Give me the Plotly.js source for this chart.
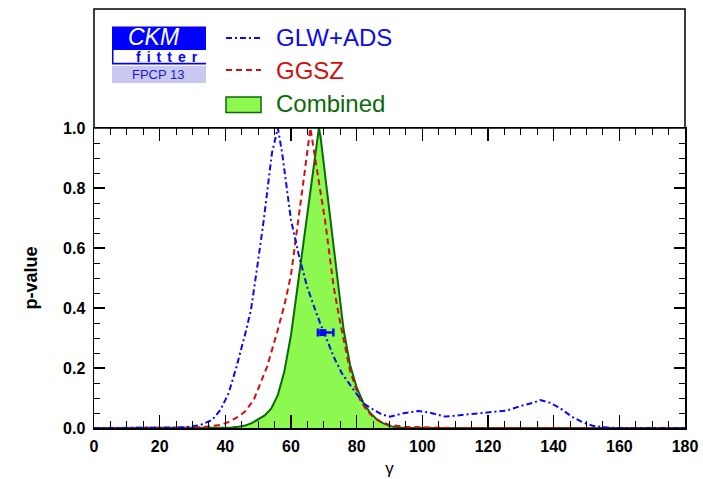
<!DOCTYPE html>
<html>
<head>
<meta charset="utf-8">
<script src="https://cdn.plot.ly/plotly-3.0.1.min.js"></script>
<style>html,body{margin:0;padding:0;background:#fff;}#chart{width:703px;height:479px;}</style>
</head>
<body>
<div id="chart"></div>
<script>
// ---- Data ----
const combinedGamma = [0, 30, 36, 40, 42, 44, 46, 48, 50, 52, 54, 56, 58, 60, 61, 62, 64, 66, 68, 68.5, 69, 70, 72, 74, 76, 78, 80, 82, 84, 86, 88, 90, 92, 95, 100, 180];
const combinedP     = [0, 0, 0.0005, 0.001, 0.002, 0.004, 0.008, 0.016, 0.028, 0.042, 0.065, 0.11, 0.19, 0.31, 0.39, 0.47, 0.63, 0.80, 0.96, 1.0, 0.97, 0.88, 0.69, 0.50, 0.33, 0.21, 0.135, 0.085, 0.052, 0.03, 0.016, 0.007, 0.002, 0.0005, 0, 0];

const ggszGamma = [0, 25, 30, 33, 36, 38.5, 41, 44, 46, 48.6, 50, 52.7, 55.7, 58, 60, 62.3, 64, 65.9, 67, 68.5, 70.4, 72, 73, 75, 77, 78, 80, 81, 83, 85, 87, 90, 95, 100, 110, 180];
const ggszP     = [0, 0, 0.001, 0.003, 0.006, 0.01, 0.02, 0.038, 0.055, 0.093, 0.13, 0.204, 0.316, 0.41, 0.51, 0.69, 0.84, 1.0, 0.93, 0.82, 0.69, 0.56, 0.47, 0.35, 0.24, 0.19, 0.125, 0.095, 0.06, 0.037, 0.022, 0.01, 0.004, 0.002, 0, 0];

const glwGamma = [0, 20, 25, 28, 32.4, 36, 38.5, 41, 43.4, 46.1, 47.8, 49.5, 51.7, 54.2, 56, 57.3, 60, 62.3, 64.9, 67.4, 68.9, 73, 75.5, 79.1, 82.1, 85.2, 87.7, 90.2, 94.3, 98.8, 102.4, 107, 111.5, 116.6, 121.7, 125.7, 129.8, 133.8, 135.9, 138.9, 142, 145.5, 149, 152.1, 156, 160, 180];
const glwP     = [0, 0, 0.001, 0.003, 0.01, 0.027, 0.06, 0.116, 0.204, 0.316, 0.393, 0.52, 0.693, 0.917, 1.0, 0.917, 0.693, 0.58, 0.471, 0.393, 0.349, 0.238, 0.182, 0.127, 0.082, 0.06, 0.045, 0.038, 0.049, 0.057, 0.051, 0.038, 0.043, 0.047, 0.052, 0.058, 0.073, 0.084, 0.093, 0.084, 0.066, 0.038, 0.018, 0.007, 0.002, 0, 0];

const pointGamma = [69.7];
const pointP = [0.318];
const pointErrPlus = [3.2];
const pointErrMinus = [1.5];

const seriesNames = ["GLW+ADS", "GGSZ", "Combined"];
const xTickVals = [0, 20, 40, 60, 80, 100, 120, 140, 160, 180];
const yTickVals = [0, 0.2, 0.4, 0.6, 0.8, 1.0];

// ---- Styling ----
const BLUE = "#0a0af0", RED = "#d01010", GREEN_FILL = "#8cf850", GREEN_LINE = "#0a6a0a";
const FONT = "Liberation Sans, Arial, Helvetica, sans-serif";
const DASHDOT = "6px,3px,2px,3px";
const DASH = "6px,4px";

// pixel -> paper helpers (plot area: x 94..685, y 128..428)
const px = x => (x - 94) / 591;
const py = y => (428 - y) / 300;

const traces = [
  {x: combinedGamma, y: combinedP, type: "scatter", mode: "lines", fill: "tozeroy",
   fillcolor: GREEN_FILL, line: {color: GREEN_LINE, width: 2}, name: seriesNames[2], showlegend: false, hoverinfo: "skip"},
  {x: ggszGamma, y: ggszP, type: "scatter", mode: "lines",
   line: {color: RED, width: 2, dash: DASH}, name: seriesNames[1], showlegend: false},
  {x: glwGamma, y: glwP, type: "scatter", mode: "lines",
   line: {color: BLUE, width: 2, dash: DASHDOT}, name: seriesNames[0], showlegend: false},
  {x: pointGamma, y: pointP, type: "scatter", mode: "markers",
   marker: {color: BLUE, size: 7, symbol: "square"},
   error_x: {type: "data", array: pointErrPlus, arrayminus: pointErrMinus, color: BLUE, thickness: 2.5, width: 4},
   showlegend: false}
];

const axisCommon = {
  showline: true, linecolor: "#000", linewidth: 1.5, mirror: "allticks",
  ticks: "inside", tickwidth: 1.2, tickcolor: "#000",
  showgrid: false, zeroline: false,
  tickfont: {family: FONT, size: 16, color: "#000", weight: "bold"}
};

const layout = {
  width: 703, height: 479,
  margin: {l: 94, r: 18, t: 128, b: 51, pad: 0},
  paper_bgcolor: "#fff", plot_bgcolor: "#fff",
  showlegend: false,
  xaxis: Object.assign({}, axisCommon, {
    range: [0, 180], tickvals: xTickVals, ticktext: xTickVals.map(String),
    ticklen: 13, ticklabelstandoff: 3,
    minor: {dtick: 5, ticklen: 7, ticks: "inside", tickcolor: "#000", tickwidth: 1},
    title: {text: "γ", font: {family: FONT, size: 17, color: "#000"}, standoff: 8}
  }),
  yaxis: Object.assign({}, axisCommon, {
    range: [0, 1], tickvals: yTickVals, ticktext: yTickVals.map(v => v.toFixed(1)),
    ticklen: 11, ticklabelstandoff: 4,
    minor: {dtick: 0.05, ticklen: 6, ticks: "inside", tickcolor: "#000", tickwidth: 1},
    title: {text: "p-value", font: {family: FONT, size: 18, color: "#000", weight: "bold"}, standoff: 20}
  }),
  shapes: [
    // top legend box
    {type: "rect", xref: "paper", yref: "paper", x0: 0, x1: 1, y0: 1, y1: py(9), line: {color: "#000", width: 1.5}},
    // logo
    {type: "rect", xref: "paper", yref: "paper", x0: px(112), x1: px(206), y0: py(64.5), y1: py(26.5), fillcolor: "#0000ff", line: {width: 0}},
    {type: "rect", xref: "paper", yref: "paper", x0: px(113.5), x1: px(206), y0: py(62.7), y1: py(50), fillcolor: "#ffffff", line: {width: 0}},
    {type: "rect", xref: "paper", yref: "paper", x0: px(112), x1: px(206), y0: py(83), y1: py(66), fillcolor: "#c8c8f0", line: {width: 0}},
    // legend symbols
    {type: "line", xref: "paper", yref: "paper", x0: px(226), x1: px(261), y0: py(38), y1: py(38), line: {color: BLUE, width: 2, dash: DASHDOT}},
    {type: "line", xref: "paper", yref: "paper", x0: px(226), x1: px(261), y0: py(70), y1: py(70), line: {color: RED, width: 2, dash: DASH}},
    {type: "rect", xref: "paper", yref: "paper", x0: px(226), x1: px(261), y0: py(112.5), y1: py(97), fillcolor: GREEN_FILL, line: {color: GREEN_LINE, width: 1.5}}
  ],
  annotations: [
    {xref: "paper", yref: "paper", x: px(153.5), y: py(36.5), text: "<i>CKM</i>", showarrow: false, xanchor: "center", yanchor: "middle",
     font: {family: FONT, size: 23, color: "#ffffff"}},
    {xref: "paper", yref: "paper", x: px(170), y: py(57.5), text: "<b>fitter</b>", showarrow: false, xanchor: "center", yanchor: "middle",
     font: {family: FONT, size: 14, color: "#0000ff"}},
    {xref: "paper", yref: "paper", x: px(158.5), y: py(75), text: "FPCP 13", showarrow: false, xanchor: "center", yanchor: "middle",
     font: {family: FONT, size: 13, color: "#1a1ad0"}},
    {xref: "paper", yref: "paper", x: px(274), y: py(37), text: seriesNames[0], showarrow: false, xanchor: "left", yanchor: "middle",
     font: {family: FONT, size: 24, color: BLUE}},
    {xref: "paper", yref: "paper", x: px(274), y: py(70), text: seriesNames[1], showarrow: false, xanchor: "left", yanchor: "middle",
     font: {family: FONT, size: 24, color: RED}},
    {xref: "paper", yref: "paper", x: px(274), y: py(103), text: seriesNames[2], showarrow: false, xanchor: "left", yanchor: "middle",
     font: {family: FONT, size: 24, color: GREEN_LINE}}
  ]
};

Plotly.newPlot("chart", traces, layout, {displayModeBar: false, staticPlot: true}).then(gd => {
  gd.querySelectorAll(".annotation-text").forEach(t => {
    if (t.textContent === "fitter") t.setAttribute("letter-spacing", "6px");
  });
});
</script>
</body>
</html>
